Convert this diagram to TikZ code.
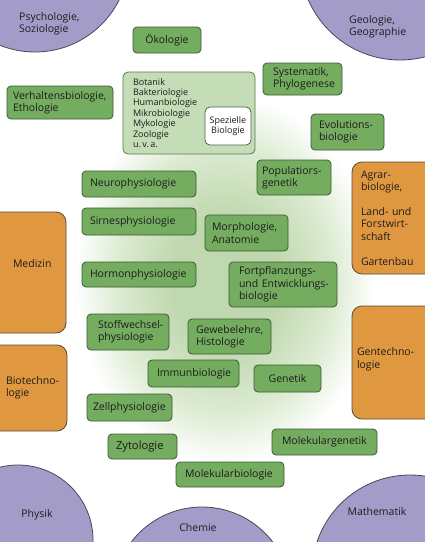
\documentclass[tikz,border=0pt]{standalone}
\usepackage{fontspec}
\setmainfont{Open Sans}
\definecolor{pfill}{RGB}{163,156,201}
\definecolor{pborder}{RGB}{74,72,90}
\definecolor{gfill}{RGB}{116,172,96}
\definecolor{gborder}{RGB}{60,90,53}
\definecolor{ofill}{RGB}{224,152,64}
\definecolor{oborder}{RGB}{90,74,58}
\definecolor{lfill}{RGB}{197,221,182}
\definecolor{lborder}{RGB}{92,122,82}
\definecolor{bggreen}{RGB}{192,216,175}
\definecolor{bgmid}{RGB}{220,235,210}
\definecolor{txt}{RGB}{28,28,28}
\pgfdeclareradialshading{bgshade}{\pgfpoint{0bp}{0bp}}{color(0bp)=(bggreen); color(9bp)=(bggreen); color(18bp)=(bgmid); color(25bp)=(white); color(50bp)=(white)}
\newcommand\mainsz{\fontsize{10.5}{12.4}\selectfont}
\newcommand\smallsz{\fontsize{9}{10.4}\selectfont}
\tikzset{
  basebox/.style={inner xsep=0pt, inner ysep=0pt, align=left, text=txt,
    font=\mainsz, execute at begin node={\hyphenpenalty=10000\exhyphenpenalty=10000}},
  gbox/.style={basebox, draw=gborder, fill=gfill, rounded corners=4pt, line width=0.8pt},
  obox/.style={basebox, draw=oborder, fill=ofill, rounded corners=10pt, line width=0.8pt},
  lbox/.style={basebox, draw=lborder, fill=lfill, rounded corners=5pt, line width=0.8pt, font=\smallsz},
  wbox/.style={basebox, draw=lborder!80!black, fill=white, rounded corners=5pt, line width=0.8pt, font=\smallsz, align=center},
  pcirc/.style={draw=pborder, fill=pfill, line width=0.8pt},
  plabel/.style={inner sep=0pt, align=left, text=txt, font=\mainsz}
}
% #1 style, #2 name, #3 x1, #4 y1, #5 x2, #6 y2, #7 pad, #8 text
\newcommand\mybox[8]{%
  \pgfmathsetmacro\bw{#5-#3}%
  \pgfmathsetmacro\bh{#6-#4}%
  \pgfmathsetmacro\tw{#5-#3-2*#7}%
  \pgfmathsetmacro\cx{(#3+#5)/2}%
  \pgfmathsetmacro\cy{(#4+#6)/2}%
  \node[#1, minimum width=\bw pt, minimum height=\bh pt, text width=\tw pt] (#2) at (\cx,\cy) {#8};}
\begin{document}
\begin{tikzpicture}[x=1pt,y=-1pt]
\useasboundingbox (0,0) rectangle (425,542);
\clip (0,0) rectangle (425,542);
\fill[white] (0,0) rectangle (425,542);
\shade[shading=bgshade] (225,280) ellipse [x radius=150pt, y radius=185pt];
% circles
\draw[pcirc] (35,-42) circle [radius=94pt];
\draw[pcirc] (400,-40) circle [radius=100pt];
\draw[pcirc] (18,540) circle [radius=75pt];
\draw[pcirc] (202,596) circle [radius=89pt];
\draw[pcirc] (410,573) circle [radius=98pt];
\node[plabel, anchor=west] (psy) at (19,23.5) {Psychologie,\\Soziologie};
\node[plabel, anchor=west] (geo) at (349,27) {Geologie,\\Geographie};
\node[plabel] (phys) at (37,515) {Physik};
\node[plabel] (chem) at (198,528) {Chemie};
\node[plabel] (math) at (377,512) {Mathematik};
% orange boxes
\mybox{obox}{agrar}{352}{162}{440}{274}{9}{Agrar-\\biologie,\\~\\Land- und\\Forstwirt-\\schaft\\~\\Gartenbau}
\mybox{obox}{gentech}{352}{306}{440}{419}{5}{Gentechno-\\logie\\[-3.5pt]~}
\mybox{obox}{medizin}{-20}{212}{66}{333}{33}{Medizin\\[6pt]~}
\mybox{obox}{biotech}{-20}{345}{67}{431}{26}{Biotechno-\\logie}
% light box
\mybox{lbox}{spez}{123}{72}{255}{154}{10}{Botanik\\Bakteriologie\\Humanbiologie\\Mikrobiologie\\Mykologie\\Zoologie\\u.\,v.\,a.}
\mybox{wbox}{spezb}{205}{107}{251}{145}{2}{Spezielle\\Biologie}
% green boxes
\mybox{gbox,align=center}{oeko}{133}{27}{201}{53}{4}{Ökologie}
\mybox{gbox}{verh}{7}{86}{113}{119}{6}{Verhaltensbiologie,\\Ethologie}
\mybox{gbox}{syst}{263}{63}{342}{95}{10}{Systematik,\\Phylogenese}
\mybox{gbox}{evol}{311}{114}{384}{150}{8}{Evolutions-\\biologie}
\mybox{gbox}{popu}{257}{160}{331}{195}{5}{Populatiors-\\genetik}
\mybox{gbox}{neuro}{82}{171}{196}{197}{8}{Neurophysiologie}
\mybox{gbox}{sinn}{82}{208}{196}{235}{8}{Sirnesphysiologie}
\mybox{gbox}{morph}{205}{215}{288}{251}{7}{Morphologie,\\Anatomie}
\mybox{gbox}{horm}{82}{262}{196}{287}{8}{Hormonphysiologie}
\mybox{gbox}{fort}{229}{262}{337}{307}{5}{\hspace{5pt}Fortpflanzungs-\\\hspace{5pt}und Entwicklungs-\\\hspace{5pt}biologie}
\mybox{gbox}{stoff}{87}{314}{169}{350}{11}{Stoffwechsel-\\physiologie}
\mybox{gbox}{gewebe}{188}{319}{271}{354}{8}{Gewebelehre,\\Histologie}
\mybox{gbox}{immun}{148}{360}{239}{387}{9}{Immunbiologie}
\mybox{gbox,align=center}{genetik}{254}{365}{321}{392}{4}{Genetik}
\mybox{gbox}{zell}{87}{394}{172}{421}{6}{Zellphysiologie}
\mybox{gbox,font=\fontsize{11.2}{13}\selectfont}{zyto}{108}{434}{177}{459}{8}{Zytologie}
\mybox{gbox}{molgen}{272}{429}{377}{455}{10}{Molekulargenetik}
\mybox{gbox}{molbio}{176}{462}{284}{487}{9}{Molekularbiologie}
\end{tikzpicture}
\end{document}
